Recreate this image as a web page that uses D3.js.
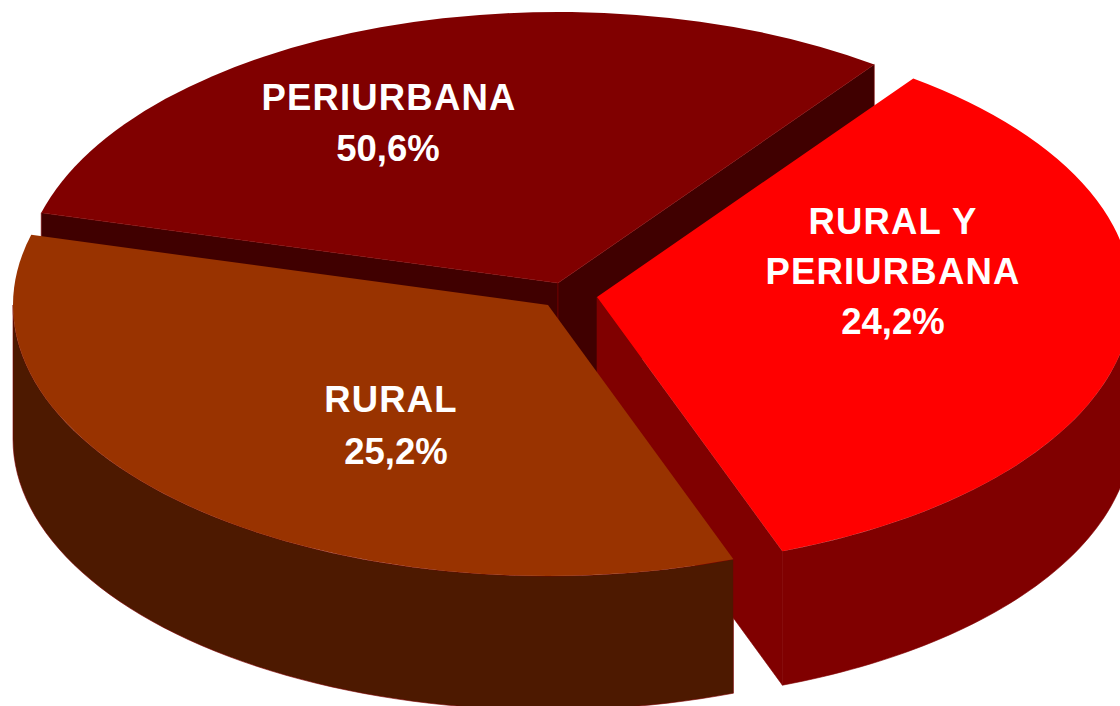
<!DOCTYPE html>
<html>
<head>
<meta charset="utf-8">
<script src="https://cdn.jsdelivr.net/npm/d3@7"></script>
<style>
  html, body { margin: 0; background: #fff; overflow: hidden; }
  text { font-family: "Liberation Sans", Arial, sans-serif; font-weight: bold; fill: #fff; text-anchor: middle; }
</style>
</head>
<body>
<svg id="chart" width="1120" height="706"></svg>
<script>
// order is clockwise starting from the left cut of the dark slice
var names = ["PERIURBANA", "RURAL Y PERIURBANA", "RURAL"];
var percents = ["50,6%", "24,2%", "25,2%"];
// share of the circle each slice really takes in the picture (it does not follow the printed %)
var drawnShares = [30.9, 34.3, 34.8];

var label_lines = [["PERIURBANA"], ["RURAL Y", "PERIURBANA"], ["RURAL"]];

//configurations
var width = 1120, height = 706;
var rx = 535, ry = 271, depth = 134;
var start_angle = 285 * Math.PI / 180;

// apex of every slice after the explode
var apex = [[558, 283], [597, 297], [548, 305]];
var top_colors = ["#800000", "#ff0000", "#993300"];
var wall_colors = ["#400000", "#800000", "#4d1900"];
var label_x = [389, 893, 391];
var label_y = [110, 234, 412];
var pct_x = [388, 893, 396];
var line_gap = [51, 50, 52];

var svg = d3.select("#chart");

var slices = d3.pie().sort(null).startAngle(start_angle).endAngle(start_angle + 2 * Math.PI)(drawnShares);
var arc = d3.arc().innerRadius(0).outerRadius(rx);
var yScale = ry / rx;

function rimPoint(i, a, drop) {
    return [apex[i][0] + rx * Math.sin(a), apex[i][1] - ry * Math.cos(a) + (drop || 0)];
}

function drawCutWall(i, a) {
    var p = rimPoint(i, a);
    var pts = [apex[i], p, [p[0], p[1] + depth], [apex[i][0], apex[i][1] + depth]];
    svg.append("polygon").attr("points", pts.join(" ")).attr("fill", wall_colors[i])
        .attr("stroke", top_colors[0]).attr("stroke-width", 0.6);
}

function drawRimWall(i, a0, a1) {
    var steps = d3.range(0, 61).map(k => a0 + (a1 - a0) * k / 60);
    var area = d3.area().x(a => rimPoint(i, a)[0]).y0(a => rimPoint(i, a)[1]).y1(a => rimPoint(i, a, depth)[1]);
    svg.append("path").attr("d", area(steps)).attr("fill", wall_colors[i])
        .attr("stroke", top_colors[0]).attr("stroke-width", 0.6);
}

function drawTop(i) {
    svg.append("g").attr("transform", `translate(${apex[i][0]},${apex[i][1]}) scale(1,${yScale})`)
        .append("path").attr("d", arc(slices[i])).attr("fill", top_colors[i]);
}

// back to front, the angles run past 360 because the pie starts at 285
var turn = 2 * Math.PI;
drawCutWall(0, slices[0].startAngle);
drawCutWall(0, slices[0].endAngle);
drawTop(0);

drawCutWall(1, slices[1].endAngle);
drawRimWall(1, turn + Math.PI / 2, slices[1].endAngle);
drawTop(1);

drawRimWall(2, slices[2].startAngle, turn + 1.5 * Math.PI);
drawTop(2);

names.forEach((name, i) => {
    label_lines[i].forEach((line, j) => {
        svg.append("text").attr("x", label_x[i]).attr("y", label_y[i] + j * line_gap[i])
            .attr("font-size", 36.5).attr("letter-spacing", 1.15).text(line);
    });
    svg.append("text").attr("x", pct_x[i]).attr("y", label_y[i] + label_lines[i].length * line_gap[i])
        .attr("font-size", 36.5).text(percents[i]);
});
</script>
</body>
</html>
